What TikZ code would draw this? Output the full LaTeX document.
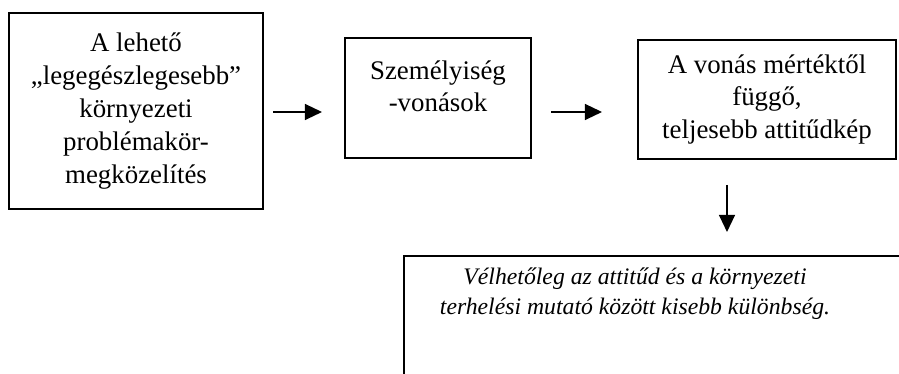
\documentclass[tikz,border=0pt]{standalone}
\usepackage{fontspec}
\setmainfont{Liberation Serif}
\usetikzlibrary{calc,arrows.meta}

\begin{document}
\begin{tikzpicture}[x=0.35pt, y=-0.35pt, line width=0.7pt]
  \tikzset{box/.style={draw,rectangle,inner sep=0pt},
    boxtext/.style={align=center,inner sep=0pt,font=\fontsize{9.4}{11.5}\selectfont},
    smalltext/.style={align=center,inner sep=0pt,font=\fontsize{8.3}{10.5}\selectfont\itshape},
    flow/.style={line width=0.55pt,-{Triangle[length=6pt,width=5.6pt]}}}
  \clip (0,0) rectangle (899,374);
  \node [box,boxtext,minimum width=88.9pt,minimum height=68.6pt] (probs) at (136,111) {A lehető\\„legegészlegesebb”\\környezeti\\problémakör-\\megközelítés};
  \node [box,minimum width=65.1pt,minimum height=42pt] (traits) at (438,98) {};
  \node [boxtext,anchor=base] (traitstext) at (438,112) {Személyiség\\-vonások};
  \node [box,boxtext,minimum width=90.3pt,minimum height=41.65pt] (attitude) at (767,99.5) {A vonás mértéktől\\függő,\\teljesebb attitűdkép};
  \node [box,minimum width=194.6pt,minimum height=64.4pt] (guess) at (682,348) {};
  \node [smalltext,anchor=base] (guesstext) at (635,315) {Vélhetőleg az attitűd és a környezeti\\terhelési mutató között kisebb különbség.};
  \draw [flow] ($(probs.east)+(9,1)$) -- ($(traits.west)+(-22,14)$);
  \draw [flow] ($(traits.east)+(19,14)$) -- ($(attitude.west)+(-35,12.5)$);
  \draw [flow] ($(attitude.south)+(-40,25)$) -- ($(guess.north)+(45,-23)$);
\end{tikzpicture}
\end{document}
